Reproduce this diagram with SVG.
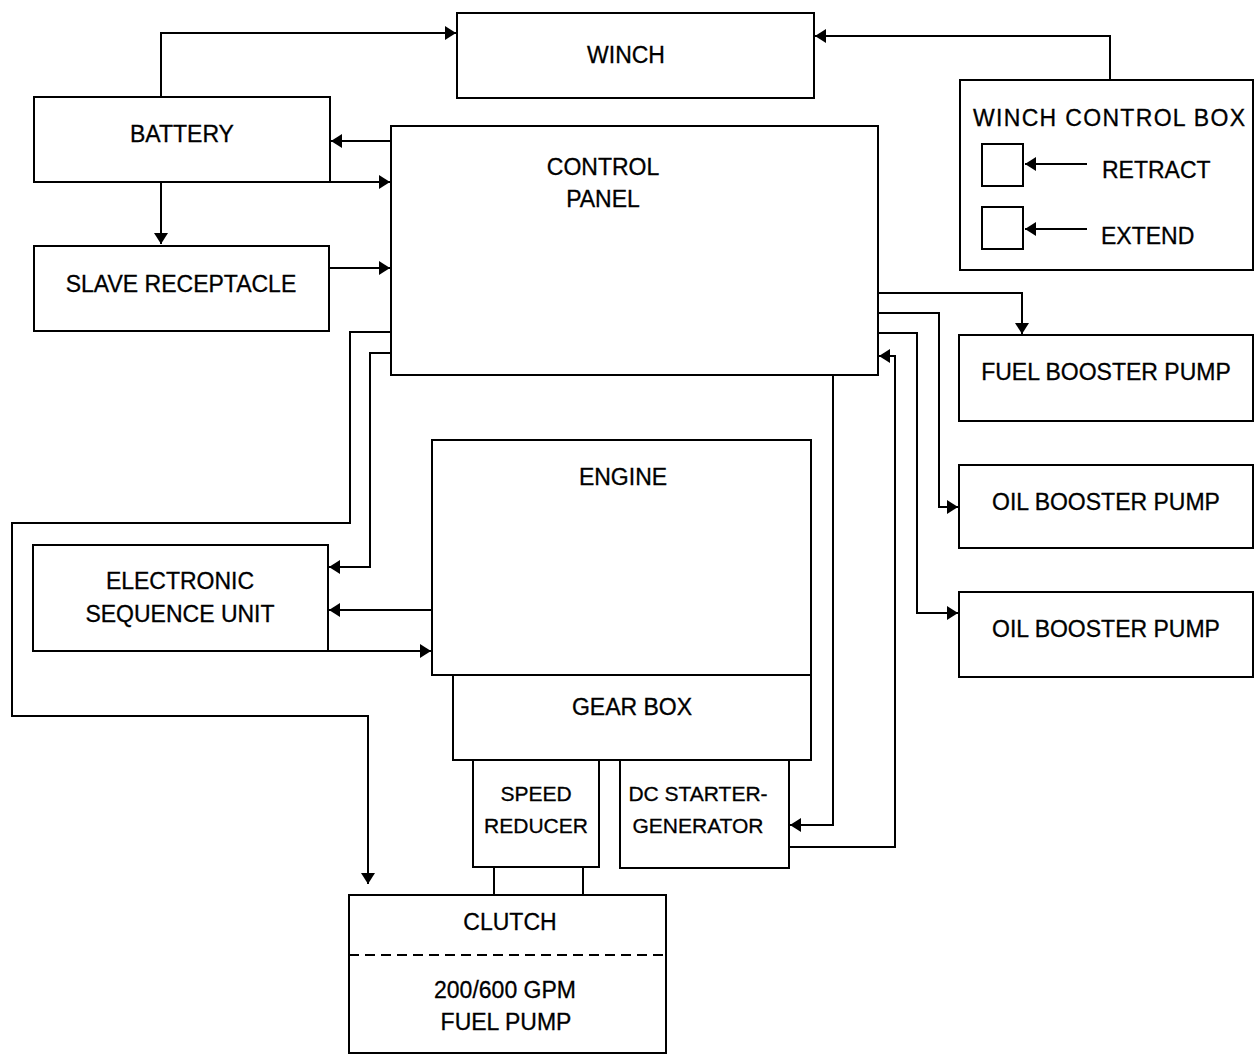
<svg xmlns="http://www.w3.org/2000/svg" width="1255" height="1055" viewBox="0 0 1255 1055">
<style>
.box{fill:none;stroke:#000;stroke-width:2}
.ln{fill:none;stroke:#000;stroke-width:2}
.arr{marker-end:url(#ah)}
text{font-family:"Liberation Sans",Arial,sans-serif;font-size:23px;fill:#000;text-anchor:middle;stroke:#000;stroke-width:0.3}
.sm{font-size:21px}
.st{text-anchor:start}
</style>
<defs>
<marker id="ah" markerUnits="userSpaceOnUse" markerWidth="12" markerHeight="14" refX="11" refY="7" orient="auto">
<path d="M0,0 L11,7 L0,14 z" fill="#000"/>
</marker>
</defs>
<rect width="1255" height="1055" fill="#fff"/>
<g id="connectors">
<polyline class="ln arr" points="161,97 161,33 456,33"/>
<polyline class="ln arr" points="1110,80 1110,36 815,36"/>
<line class="ln arr" x1="391" y1="141" x2="331" y2="141"/>
<line class="ln arr" x1="330" y1="182" x2="390" y2="182"/>
<line class="ln arr" x1="161" y1="182" x2="161" y2="244"/>
<line class="ln arr" x1="329" y1="268" x2="390" y2="268"/>
<polyline class="ln arr" points="391,332 350,332 350,523 12,523 12,716 368,716 368,884"/>
<polyline class="ln arr" points="391,353 370,353 370,567 329,567"/>
<line class="ln arr" x1="432" y1="610" x2="329" y2="610"/>
<line class="ln arr" x1="328" y1="651" x2="431" y2="651"/>
<polyline class="ln arr" points="833,375 833,825 790,825"/>
<polyline class="ln arr" points="789,847 895,847 895,356 879,356"/>
<polyline class="ln arr" points="878,293 1022,293 1022,334"/>
<polyline class="ln arr" points="878,313 939,313 939,507 958,507"/>
<polyline class="ln arr" points="878,333 917,333 917,613 958,613"/>
<line class="ln" x1="494" y1="867" x2="494" y2="895"/>
<line class="ln" x1="583" y1="867" x2="583" y2="895"/>
</g>
<g id="winch">
<rect class="box" x="457" y="13" width="357" height="85"/>
<text x="626" y="63">WINCH</text>
</g>
<g id="winch-control-box">
<rect class="box" x="960" y="80" width="293" height="190"/>
<text class="st" x="973" y="126" textLength="272">WINCH CONTROL BOX</text>
<rect class="box" x="982" y="144" width="41" height="42"/>
<rect class="box" x="982" y="207" width="41" height="42"/>
<line class="ln arr" x1="1087" y1="164" x2="1025" y2="164"/>
<line class="ln arr" x1="1087" y1="229" x2="1025" y2="229"/>
<text class="st" x="1102" y="178">RETRACT</text>
<text class="st" x="1101" y="244">EXTEND</text>
</g>
<g id="battery">
<rect class="box" x="34" y="97" width="296" height="85"/>
<text x="182" y="142">BATTERY</text>
</g>
<g id="slave-receptacle">
<rect class="box" x="34" y="246" width="295" height="85"/>
<text x="181" y="292">SLAVE RECEPTACLE</text>
</g>
<g id="control-panel">
<rect class="box" x="391" y="126" width="487" height="249"/>
<text x="603" y="175">CONTROL</text>
<text x="603" y="207">PANEL</text>
</g>
<g id="fuel-booster-pump">
<rect class="box" x="959" y="335" width="294" height="86"/>
<text x="1106" y="380">FUEL BOOSTER PUMP</text>
</g>
<g id="oil-booster-pump-1">
<rect class="box" x="959" y="465" width="294" height="83"/>
<text x="1106" y="510">OIL BOOSTER PUMP</text>
</g>
<g id="oil-booster-pump-2">
<rect class="box" x="959" y="592" width="294" height="85"/>
<text x="1106" y="637">OIL BOOSTER PUMP</text>
</g>
<g id="engine">
<rect class="box" x="432" y="440" width="379" height="235"/>
<text x="623" y="485">ENGINE</text>
</g>
<g id="electronic-sequence-unit">
<rect class="box" x="33" y="545" width="295" height="106"/>
<text x="180" y="589">ELECTRONIC</text>
<text x="180" y="622">SEQUENCE UNIT</text>
</g>
<g id="gear-box">
<rect class="box" x="453" y="675" width="358" height="85"/>
<text x="632" y="715">GEAR BOX</text>
</g>
<g id="speed-reducer">
<rect class="box" x="473" y="760" width="126" height="107"/>
<text class="sm" x="536" y="801">SPEED</text>
<text class="sm" x="536" y="833">REDUCER</text>
</g>
<g id="dc-starter-generator">
<rect class="box" x="620" y="760" width="169" height="108"/>
<text class="sm" x="698" y="801">DC STARTER-</text>
<text class="sm" x="698" y="833">GENERATOR</text>
</g>
<g id="clutch-fuel-pump">
<rect class="box" x="349" y="895" width="317" height="158"/>
<line class="ln" x1="349" y1="955" x2="666" y2="955" stroke-dasharray="10,6"/>
<text x="510" y="930">CLUTCH</text>
<text x="505" y="998">200/600 GPM</text>
<text x="506" y="1030">FUEL PUMP</text>
</g>
</svg>
